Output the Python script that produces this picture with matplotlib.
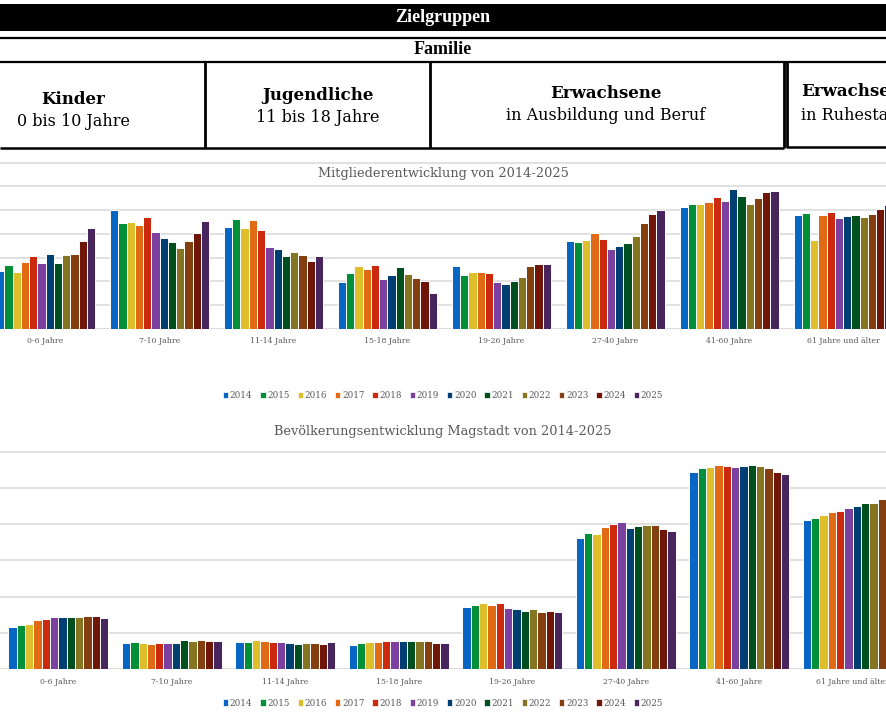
import matplotlib
matplotlib.use("Agg")
import matplotlib.pyplot as plt
from matplotlib.patches import Patch, Rectangle
from matplotlib.lines import Line2D
import numpy as np

plt.rcParams['font.family'] = ['DejaVu Serif']

years = ["2014", "2015", "2016", "2017", "2018", "2019", "2020", "2021", "2022", "2023", "2024", "2025"]
categories = ["0-6 Jahre", "7-10 Jahre", "11-14 Jahre", "15-18 Jahre", "19-26 Jahre",
              "27-40 Jahre", "41-60 Jahre", "61 Jahre und älter"]
colors = ["#0766C4", "#00903A", "#DEBE2A", "#E06B14", "#CB2A0E", "#7B40A0",
          "#003F72", "#004F1E", "#857520", "#843F10", "#701608", "#49255E"]

# Mitgliederentwicklung (rows = categories, columns = years 2014..2025)
members_0_6 = [24.5, 26.9, 23.9, 28.1, 30.5, 27.7, 31.4, 27.7, 31.1, 31.4, 37.0, 42.3]
members_7_10 = [49.9, 44.7, 45.0, 43.9, 47.1, 40.9, 38.4, 36.6, 33.9, 37.1, 40.5, 45.4]
members_11_14 = [42.9, 46.3, 42.3, 46.0, 41.5, 34.5, 33.5, 30.9, 32.5, 31.1, 28.6, 30.9]
members_15_18 = [19.7, 23.6, 26.5, 25.2, 26.9, 21.2, 22.7, 25.9, 23.2, 21.4, 20.1, 15.1]
members_19_26 = [26.3, 22.9, 23.9, 24.1, 23.6, 19.8, 18.9, 20.4, 21.8, 26.3, 27.4, 27.3]
members_27_40 = [37.1, 36.7, 37.6, 40.5, 37.7, 33.6, 35.1, 36.3, 39.2, 44.6, 48.2, 50.2]
members_41_60 = [51.2, 52.7, 52.7, 53.3, 55.4, 54.0, 58.8, 55.8, 52.7, 55.0, 57.5, 58.2]
members_61 = [47.8, 48.9, 37.3, 47.8, 49.4, 46.8, 47.6, 48.1, 47.3, 48.5, 50.5, 52.3]

# Bevölkerungsentwicklung Magstadt
pop_0_6 = [588, 610, 630, 675, 693, 720, 720, 725, 720, 730, 735, 705]
pop_7_10 = [367, 376, 367, 354, 360, 367, 367, 404, 390, 404, 390, 386]
pop_11_14 = [381, 372, 404, 395, 376, 376, 360, 349, 363, 363, 344, 381]
pop_15_18 = [331, 363, 376, 381, 390, 390, 390, 395, 386, 386, 363, 360]
pop_19_26 = [863, 886, 909, 886, 913, 840, 836, 808, 836, 795, 799, 795]
pop_27_40 = [1808, 1873, 1869, 1965, 2006, 2029, 1951, 1974, 1988, 1983, 1937, 1905]
pop_41_60 = [2713, 2769, 2782, 2819, 2801, 2782, 2801, 2815, 2796, 2769, 2718, 2695]
pop_61 = [2061, 2089, 2130, 2167, 2176, 2218, 2250, 2287, 2296, 2351, 2375, 2395]

members = np.array([members_0_6, members_7_10, members_11_14, members_15_18,
                    members_19_26, members_27_40, members_41_60, members_61])
population = np.array([pop_0_6, pop_7_10, pop_11_14, pop_15_18,
                       pop_19_26, pop_27_40, pop_41_60, pop_61])

W, H = 886, 719
fig = plt.figure(figsize=(W / 100, H / 100), dpi=100)
fig.patch.set_facecolor("white")

def fx(x):
    return x / W

def fy(y):
    return 1 - y / H

GRAY = "#595959"
GRID = "#d9d9d9"

# ---------- Header ----------
fig.add_artist(Rectangle((0, fy(31)), 1, (31 - 4) / H, transform=fig.transFigure,
                         facecolor="black", edgecolor="none"))
fig.text(fx(443), fy(18), "Zielgruppen", color="white", fontsize=13, fontweight="bold",
         family="Liberation Serif", ha="center", va="center")

def hline(y, lw=2, color="black", x0=0, x1=W):
    fig.add_artist(Line2D([fx(x0), fx(x1)], [fy(y), fy(y)], transform=fig.transFigure,
                          color=color, lw=lw, solid_capstyle="butt"))

def vline(x, y0, y1, lw=2, color="black"):
    fig.add_artist(Line2D([fx(x), fx(x)], [fy(y0), fy(y1)], transform=fig.transFigure,
                          color=color, lw=lw, solid_capstyle="butt"))

hline(38.3, lw=1.6)
fig.text(fx(443), fy(50), "Familie", color="black", fontsize=13, fontweight="bold",
         family="Liberation Serif", ha="center", va="center")
hline(62, lw=1.6)
hline(148.3, lw=1.8, x1=784)
hline(147.3, lw=1.8, x0=786)
vline(205, 62, 148)
vline(430, 62, 148)
vline(783.5, 62, 148)
vline(786.5, 62, 147)

box_texts = [
    (73.5, 99, 121.5, "Kinder", "0 bis 10 Jahre", "center"),
    (318, 95, 117.5, "Jugendliche", "11 bis 18 Jahre", "center"),
    (606, 93, 116, "Erwachsene", "in Ausbildung und Beruf", "center"),
    (801, 92, 116, "Erwachsene", "in Ruhestand", "left"),
]
for x, y1, y2, t1, t2, ha in box_texts:
    fig.text(fx(x), fy(y1), t1, fontsize=12, fontweight="bold", ha=ha, va="center")
    fig.text(fx(x), fy(y2), t2, fontsize=11.5, ha=ha, va="center")

# ---------- Charts ----------
def draw_chart(ax, data, step, xlim, ylim, width, label_pad):
    ax.set_xlim(*xlim)
    ax.set_ylim(*ylim)
    x = np.arange(len(categories))
    for j, yr in enumerate(years):
        ax.bar(x + (j - 5.5) * width, data[:, j], width=width, color=colors[j],
               edgecolor="white", linewidth=0.7, zorder=3)
    ax.set_yticks(np.arange(step, ylim[1], step))
    ax.yaxis.grid(True, color=GRID, lw=1.1, zorder=0)
    ax.axhline(0, color=GRID, lw=1.4, zorder=2)
    ax.set_axisbelow(True)
    ax.tick_params(axis="y", left=False, labelleft=False)
    ax.set_xticks(x)
    ax.set_xticklabels(categories, fontsize=5.6, color=GRAY)
    ax.tick_params(axis="x", length=0, pad=label_pad)
    for s in ax.spines.values():
        s.set_visible(False)
    ax.patch.set_alpha(0)

ax1 = fig.add_axes([0, fy(329), 1, (329 - 150) / H])
draw_chart(ax1, members, 10, (-0.401, 7.377), (0, 75.3), 8.25 / 113.9, 5.5)
fig.text(fx(443), fy(174), "Mitgliederentwicklung von 2014-2025", fontsize=9.3,
         color=GRAY, ha="center", va="center")

ax2 = fig.add_axes([0, fy(669.3), 1, (669.3 - 445) / H])
draw_chart(ax2, population, 500, (-0.514, 7.293), (0, 3092), 8.33 / 113.5, 6)
fig.text(fx(443), fy(431), "Bevölkerungsentwicklung Magstadt von 2014-2025", fontsize=9.3,
         color=GRAY, ha="center", va="center")

handles = [Patch(facecolor=c, edgecolor="white", linewidth=0.5) for c in colors]
for yc in (395.7, 703):
    fig.legend(handles, years, loc="center", bbox_to_anchor=(fx(443), fy(yc)), ncol=12,
               frameon=False, handlelength=0.6, handleheight=0.75, handletextpad=0.2,
               columnspacing=0.9, fontsize=6.3, labelcolor=GRAY, borderpad=0)

fig.savefig("out.png", dpi=100)
